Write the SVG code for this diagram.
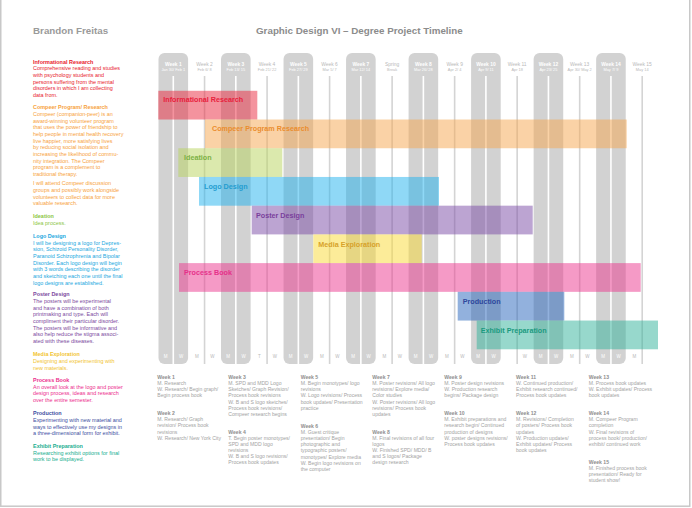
<svg xmlns="http://www.w3.org/2000/svg" width="692" height="508" viewBox="0 0 692 508">
<style>
text{font-family:"Liberation Sans",Arial,sans-serif}
.ttl{font-size:9.8px;font-weight:bold}
.lt{font-size:5.45px}
.lh{font-weight:bold}
.nt{font-size:5.1px;fill:#a3a3a3}
.nh{font-weight:bold;fill:#8e8e8e}
.bl{font-size:7.2px;font-weight:bold}
.gc{fill:#d2d2d2}
.gap{fill:#ffffff}
.ln{fill:#d4d4d4}
.wk{font-size:4.9px;text-anchor:middle}
.dt{font-size:3.9px;text-anchor:middle}
.dy{font-size:4.5px;text-anchor:middle}
.on{fill:#ffffff}
.off{fill:#b9b9b9}
.bar{fill-opacity:0.5}
</style>
<rect x="0.75" y="-2" width="689" height="508.2" fill="#ffffff" stroke="#c8c8c8" stroke-width="1.5"/>
<text class="ttl" x="33" y="34" fill="#9a9a9a">Brandon Freitas</text>
<text class="ttl" x="256" y="34" fill="#8c8c8c">Graphic Design VI – Degree Project Timeline</text>

<g id="columns">
<g id="week-1"><rect class="gc" x="158.5" y="53" width="29.6" height="311" rx="6"/><rect class="gap" x="172.5" y="76" width="1.6" height="290"/><text class="wk on lh" x="173.3" y="66">Week 1</text><text class="dt on" x="173.3" y="70.5">Jan 30/ Feb 1</text><text class="dy on" x="165.5" y="358.4">M</text><text class="dy on" x="181.1" y="358.4">W</text></g>
<g id="week-2"><rect class="ln" x="203.76" y="76" width="1.6" height="288"/><text class="wk off" x="204.56" y="66">Week 2</text><text class="dt off" x="204.56" y="70.5">Feb 6/ 8</text><text class="dy off" x="196.76" y="358.4">M</text><text class="dy off" x="212.36" y="358.4">W</text></g>
<g id="week-3"><rect class="gc" x="221.02" y="53" width="29.6" height="311" rx="6"/><rect class="gap" x="235.02" y="76" width="1.6" height="290"/><text class="wk on lh" x="235.82" y="66">Week 3</text><text class="dt on" x="235.82" y="70.5">Feb 13/ 15</text><text class="dy on" x="228.02" y="358.4">M</text><text class="dy on" x="243.62" y="358.4">W</text></g>
<g id="week-4"><rect class="ln" x="266.28" y="76" width="1.6" height="288"/><text class="wk off" x="267.08" y="66">Week 4</text><text class="dt off" x="267.08" y="70.5">Feb 21/ 22</text><text class="dy off" x="259.28" y="358.4">T</text><text class="dy off" x="274.88" y="358.4">W</text></g>
<g id="week-5"><rect class="gc" x="283.54" y="53" width="29.6" height="311" rx="6"/><rect class="gap" x="297.54" y="76" width="1.6" height="290"/><text class="wk on lh" x="298.34" y="66">Week 5</text><text class="dt on" x="298.34" y="70.5">Feb 27/ 29</text><text class="dy on" x="290.54" y="358.4">M</text><text class="dy on" x="306.14" y="358.4">W</text></g>
<g id="week-6"><rect class="ln" x="328.8" y="76" width="1.6" height="288"/><text class="wk off" x="329.6" y="66">Week 6</text><text class="dt off" x="329.6" y="70.5">Mar 5/ 7</text><text class="dy off" x="321.8" y="358.4">M</text><text class="dy off" x="337.4" y="358.4">W</text></g>
<g id="week-7"><rect class="gc" x="346.06" y="53" width="29.6" height="311" rx="6"/><rect class="gap" x="360.06" y="76" width="1.6" height="290"/><text class="wk on lh" x="360.86" y="66">Week 7</text><text class="dt on" x="360.86" y="70.5">Mar 12/ 14</text><text class="dy on" x="353.06" y="358.4">M</text><text class="dy on" x="368.66" y="358.4">W</text></g>
<g id="spring-break"><rect class="ln" x="391.32" y="76" width="1.6" height="288"/><text class="wk off" x="392.12" y="66">Spring</text><text class="dt off" x="392.12" y="70.5">Break</text><text class="dy off" x="384.32" y="358.4">M</text><text class="dy off" x="399.92" y="358.4">W</text></g>
<g id="week-8"><rect class="gc" x="408.58" y="53" width="29.6" height="311" rx="6"/><rect class="gap" x="422.58" y="76" width="1.6" height="290"/><text class="wk on lh" x="423.38" y="66">Week 8</text><text class="dt on" x="423.38" y="70.5">Mar 26/ 28</text><text class="dy on" x="415.58" y="358.4">M</text><text class="dy on" x="431.18" y="358.4">W</text></g>
<g id="week-9"><rect class="ln" x="453.84" y="76" width="1.6" height="288"/><text class="wk off" x="454.64" y="66">Week 9</text><text class="dt off" x="454.64" y="70.5">Apr 2/ 4</text><text class="dy off" x="446.84" y="358.4">M</text><text class="dy off" x="462.44" y="358.4">W</text></g>
<g id="week-10"><rect class="gc" x="471.1" y="53" width="29.6" height="311" rx="6"/><rect class="gap" x="485.1" y="76" width="1.6" height="290"/><text class="wk on lh" x="485.9" y="66">Week 10</text><text class="dt on" x="485.9" y="70.5">Apr 9/ 11</text><text class="dy on" x="478.1" y="358.4">M</text><text class="dy on" x="493.7" y="358.4">W</text></g>
<g id="week-11"><rect class="ln" x="516.36" y="76" width="1.6" height="288"/><text class="wk off" x="517.16" y="66">Week 11</text><text class="dt off" x="517.16" y="70.5">Apr 18</text><text class="dy off" x="524.96" y="358.4">W</text></g>
<g id="week-12"><rect class="gc" x="533.62" y="53" width="29.6" height="311" rx="6"/><rect class="gap" x="547.62" y="76" width="1.6" height="290"/><text class="wk on lh" x="548.42" y="66">Week 12</text><text class="dt on" x="548.42" y="70.5">Apr 23/ 25</text><text class="dy on" x="540.62" y="358.4">M</text><text class="dy on" x="556.22" y="358.4">W</text></g>
<g id="week-13"><rect class="ln" x="578.88" y="76" width="1.6" height="288"/><text class="wk off" x="579.68" y="66">Week 13</text><text class="dt off" x="579.68" y="70.5">Apr 30/ May 2</text><text class="dy off" x="571.88" y="358.4">M</text><text class="dy off" x="587.48" y="358.4">W</text></g>
<g id="week-14"><rect class="gc" x="596.14" y="53" width="29.6" height="311" rx="6"/><rect class="gap" x="610.14" y="76" width="1.6" height="290"/><text class="wk on lh" x="610.94" y="66">Week 14</text><text class="dt on" x="610.94" y="70.5">May 7/ 9</text><text class="dy on" x="603.14" y="358.4">M</text><text class="dy on" x="618.74" y="358.4">W</text></g>
<g id="week-15"><rect class="ln" x="641.4" y="76" width="1.6" height="288"/><text class="wk off" x="642.2" y="66">Week 15</text><text class="dt off" x="642.2" y="70.5">May 14</text><text class="dy off" x="634.4" y="358.4">M</text></g>
</g>

<g id="bars">
<g id="bar-informational"><rect class="bar" x="158.3" y="90.8" width="99" height="28.72" fill="#e9273d"/><text class="bl" x="163.3" y="102" fill="#e8203c">Informational Research</text></g>
<g id="bar-compeer"><rect class="bar" x="205" y="119.52" width="421.7" height="28.72" fill="#f5a54d"/><text class="bl" x="212" y="131.3" fill="#ea8d2e">Compeer Program Research</text></g>
<g id="bar-ideation"><rect class="bar" x="178.3" y="148.24" width="104" height="28.72" fill="#b7d35b"/><text class="bl" x="184" y="160" fill="#7cb144">Ideation</text></g>
<g id="bar-logo"><rect class="bar" x="199" y="176.96" width="240" height="28.72" fill="#1fb1ed"/><text class="bl" x="204" y="189" fill="#249dd0">Logo Design</text></g>
<g id="bar-poster"><rect class="bar" x="251.7" y="205.68" width="281" height="28.72" fill="#7949a5"/><text class="bl" x="256" y="217.6" fill="#7a3f9c">Poster Design</text></g>
<g id="bar-media"><rect class="bar" x="313.3" y="234.4" width="108.4" height="28.72" fill="#f9d933"/><text class="bl" x="318.3" y="246.6" fill="#d7a22a">Media Exploration</text></g>
<g id="bar-process"><rect class="bar" x="179" y="263.12" width="461.7" height="28.72" fill="#eb358d"/><text class="bl" x="184" y="275.3" fill="#e6318a">Process Book</text></g>
<g id="bar-production"><rect class="bar" x="457.7" y="291.84" width="106.6" height="28.72" fill="#2563bb"/><text class="bl" x="462.7" y="304" fill="#2d479c">Production</text></g>
<g id="bar-exhibit"><rect class="bar" x="476.7" y="320.56" width="181.3" height="28.72" fill="#2fb199"/><text class="bl" x="480.7" y="333" fill="#1a9a80">Exhibit Preparation</text></g>
</g>

<g id="legend">
<g id="legend-informational"><text class="lt" fill="#e8192c"><tspan class="lh" x="33" y="63.7">Informational Research</tspan><tspan x="33" y="70.4">Comprehensive reading and studies</tspan><tspan x="33" y="77">with psychology students and</tspan><tspan x="33" y="83.7">persons suffering from the mental</tspan><tspan x="33" y="90.4">disorders in which I am collecting</tspan><tspan x="33" y="97">data from.</tspan></text></g>
<g id="legend-compeer"><text class="lt" fill="#f7a23c"><tspan class="lh" x="33" y="109.3">Compeer Program/ Research</tspan><tspan x="33" y="116">Compeer (companion-peer) is an</tspan><tspan x="33" y="122.7">award-winning volunteer program</tspan><tspan x="33" y="129.3">that uses the power of friendship to</tspan><tspan x="33" y="136">help people in mental health recovery</tspan><tspan x="33" y="142.7">live happier, more satisfying lives</tspan><tspan x="33" y="149.3">by reducing social isolation and</tspan><tspan x="33" y="156">increasing the likelihood of commu-</tspan><tspan x="33" y="162.7">nity integration. The Compeer</tspan><tspan x="33" y="169.3">program is a complement to</tspan><tspan x="33" y="176">traditional therapy.</tspan><tspan x="33" y="185.3">I will attend Compeer discussion</tspan><tspan x="33" y="192">groups and possibly work alongside</tspan><tspan x="33" y="198.7">volunteers to collect data for more</tspan><tspan x="33" y="205.3">valuable research.</tspan></text></g>
<g id="legend-ideation"><text class="lt" fill="#8cc63f"><tspan class="lh" x="33" y="218">Ideation</tspan><tspan x="33" y="224.7">Idea process.</tspan></text></g>
<g id="legend-logo"><text class="lt" fill="#1ba8e0"><tspan class="lh" x="33" y="238">Logo Design</tspan><tspan x="33" y="244.7">I will be designing a logo for Depres-</tspan><tspan x="33" y="251.3">sion, Schizoid Personality Disorder,</tspan><tspan x="33" y="258">Paranoid Schizophrenia and Bipolar</tspan><tspan x="33" y="264.7">Disorder. Each logo design will begin</tspan><tspan x="33" y="271.3">with 3 words describing the disorder</tspan><tspan x="33" y="278">and sketching each one until the final</tspan><tspan x="33" y="284.7">logo designs are established.</tspan></text></g>
<g id="legend-poster"><text class="lt" fill="#7c4a9e"><tspan class="lh" x="33" y="296.3">Poster Design</tspan><tspan x="33" y="303">The posters will be experimental</tspan><tspan x="33" y="309.7">and have a combination of both</tspan><tspan x="33" y="316.3">printmaking and type. Each will</tspan><tspan x="33" y="323">compliment their particular disorder.</tspan><tspan x="33" y="329.7">The posters will be informative and</tspan><tspan x="33" y="336.3">also help reduce the stigma associ-</tspan><tspan x="33" y="343">ated with these diseases.</tspan></text></g>
<g id="legend-media"><text class="lt" fill="#f2c431"><tspan class="lh" x="33" y="356.3">Media Exploration</tspan><tspan x="33" y="363">Designing and experimenting with</tspan><tspan x="33" y="369.7">new materials.</tspan></text></g>
<g id="legend-process"><text class="lt" fill="#ec2d8d"><tspan class="lh" x="33" y="382">Process Book</tspan><tspan x="33" y="388.7">An overall look at the logo and poster</tspan><tspan x="33" y="395.3">design process, ideas and research</tspan><tspan x="33" y="402">over the entire semester.</tspan></text></g>
<g id="legend-production"><text class="lt" fill="#3d4ea1"><tspan class="lh" x="33" y="415.3">Production</tspan><tspan x="33" y="422">Experimenting with new material and</tspan><tspan x="33" y="428.7">ways to effectively use my designs in</tspan><tspan x="33" y="435.3">a three-dimensional form for exhibit.</tspan></text></g>
<g id="legend-exhibit"><text class="lt" fill="#21ae8f"><tspan class="lh" x="33" y="448">Exhibit Preparation</tspan><tspan x="33" y="454.7">Researching exhibit options for final</tspan><tspan x="33" y="461.3">work to be displayed.</tspan></text></g>
</g>

<g id="notes">
<g id="note-week-1"><text class="nt" x="157.3" y="379"><tspan class="nh">Week 1</tspan><tspan x="157.3" dy="6.15">M. Research</tspan><tspan x="157.3" dy="6.15">W. Research/ Begin graph/</tspan><tspan x="157.3" dy="6.15">Begin process book</tspan></text></g>
<g id="note-week-2"><text class="nt" x="157.3" y="415.1"><tspan class="nh">Week 2</tspan><tspan x="157.3" dy="6.15">M. Research/ Graph</tspan><tspan x="157.3" dy="6.15">revision/ Process book</tspan><tspan x="157.3" dy="6.15">revisions</tspan><tspan x="157.3" dy="6.15">W. Research/ New York City</tspan></text></g>
<g id="note-week-3"><text class="nt" x="228.3" y="379"><tspan class="nh">Week 3</tspan><tspan x="228.3" dy="6.15">M. SPD and MDD Logo</tspan><tspan x="228.3" dy="6.15">Sketches/ Graph Revision/</tspan><tspan x="228.3" dy="6.15">Process book revisions</tspan><tspan x="228.3" dy="6.15">W. B and S logo sketches/</tspan><tspan x="228.3" dy="6.15">Process book revisions/</tspan><tspan x="228.3" dy="6.15">Compeer research begins</tspan></text></g>
<g id="note-week-4"><text class="nt" x="228.3" y="433.5"><tspan class="nh">Week 4</tspan><tspan x="228.3" dy="6.15">T. Begin poster monotypes/</tspan><tspan x="228.3" dy="6.15">SPD and MDD logo</tspan><tspan x="228.3" dy="6.15">revisions</tspan><tspan x="228.3" dy="6.15">W. B and S logo revisions/</tspan><tspan x="228.3" dy="6.15">Process book updates</tspan></text></g>
<g id="note-week-5"><text class="nt" x="300.7" y="379"><tspan class="nh">Week 5</tspan><tspan x="300.7" dy="6.15">M. Begin monotypes/ logo</tspan><tspan x="300.7" dy="6.15">revisions</tspan><tspan x="300.7" dy="6.15">W. Logo revisions/ Process</tspan><tspan x="300.7" dy="6.15">book updates/ Presentation</tspan><tspan x="300.7" dy="6.15">practice</tspan></text></g>
<g id="note-week-6"><text class="nt" x="300.7" y="427.8"><tspan class="nh">Week 6</tspan><tspan x="300.7" dy="6.15">M. Guest critique</tspan><tspan x="300.7" dy="6.15">presentation/ Begin</tspan><tspan x="300.7" dy="6.15">photographic and</tspan><tspan x="300.7" dy="6.15">typographic posters/</tspan><tspan x="300.7" dy="6.15">monotypes/ Explore media</tspan><tspan x="300.7" dy="6.15">W. Begin logo revisions on</tspan><tspan x="300.7" dy="6.15">the computer</tspan></text></g>
<g id="note-week-7"><text class="nt" x="372.3" y="379"><tspan class="nh">Week 7</tspan><tspan x="372.3" dy="6.15">M. Poster revisions/ All logo</tspan><tspan x="372.3" dy="6.15">revisions/ Explore media/</tspan><tspan x="372.3" dy="6.15">Color studies</tspan><tspan x="372.3" dy="6.15">W. Poster revisions/ All logo</tspan><tspan x="372.3" dy="6.15">revisions/ Process book</tspan><tspan x="372.3" dy="6.15">updates</tspan></text></g>
<g id="note-week-8"><text class="nt" x="372.3" y="433.5"><tspan class="nh">Week 8</tspan><tspan x="372.3" dy="6.15">M. Final revisions of all four</tspan><tspan x="372.3" dy="6.15">logos</tspan><tspan x="372.3" dy="6.15">W. Finished SPD/ MDD/ B</tspan><tspan x="372.3" dy="6.15">and S logos/ Package</tspan><tspan x="372.3" dy="6.15">design research</tspan></text></g>
<g id="note-week-9"><text class="nt" x="444.3" y="379"><tspan class="nh">Week 9</tspan><tspan x="444.3" dy="6.15">M. Poster design revisions</tspan><tspan x="444.3" dy="6.15">W. Production research</tspan><tspan x="444.3" dy="6.15">begins/ Package design</tspan></text></g>
<g id="note-week-10"><text class="nt" x="444.3" y="415.1"><tspan class="nh">Week 10</tspan><tspan x="444.3" dy="6.15">M. Exhibit preparations and</tspan><tspan x="444.3" dy="6.15">research begin/ Continued</tspan><tspan x="444.3" dy="6.15">production of designs</tspan><tspan x="444.3" dy="6.15">W. poster designs revisions/</tspan><tspan x="444.3" dy="6.15">Process book updates</tspan></text></g>
<g id="note-week-11"><text class="nt" x="516" y="379"><tspan class="nh">Week 11</tspan><tspan x="516" dy="6.15">W. Continued production/</tspan><tspan x="516" dy="6.15">Exhibit research continued/</tspan><tspan x="516" dy="6.15">Process book updates</tspan></text></g>
<g id="note-week-12"><text class="nt" x="516" y="415.1"><tspan class="nh">Week 12</tspan><tspan x="516" dy="6.15">M. Revisions/ Completion</tspan><tspan x="516" dy="6.15">of posters/ Process book</tspan><tspan x="516" dy="6.15">updates</tspan><tspan x="516" dy="6.15">W. Production updates/</tspan><tspan x="516" dy="6.15">Exhibit updates/ Process</tspan><tspan x="516" dy="6.15">book updates</tspan></text></g>
<g id="note-week-13"><text class="nt" x="588.7" y="379"><tspan class="nh">Week 13</tspan><tspan x="588.7" dy="6.15">M. Process book updates</tspan><tspan x="588.7" dy="6.15">W. Exhibit updates/ Process</tspan><tspan x="588.7" dy="6.15">book updates</tspan></text></g>
<g id="note-week-14"><text class="nt" x="588.7" y="415.1"><tspan class="nh">Week 14</tspan><tspan x="588.7" dy="6.15">M. Compeer Program</tspan><tspan x="588.7" dy="6.15">completion</tspan><tspan x="588.7" dy="6.15">W. Final revisions of</tspan><tspan x="588.7" dy="6.15">process book/ production/</tspan><tspan x="588.7" dy="6.15">exhibit/ continued work</tspan></text></g>
<g id="note-week-15"><text class="nt" x="588.7" y="463.5"><tspan class="nh">Week 15</tspan><tspan x="588.7" dy="6.15">M. Finished process book</tspan><tspan x="588.7" dy="6.15">presentation/ Ready for</tspan><tspan x="588.7" dy="6.15">student show!</tspan></text></g>
</g>
</svg>
